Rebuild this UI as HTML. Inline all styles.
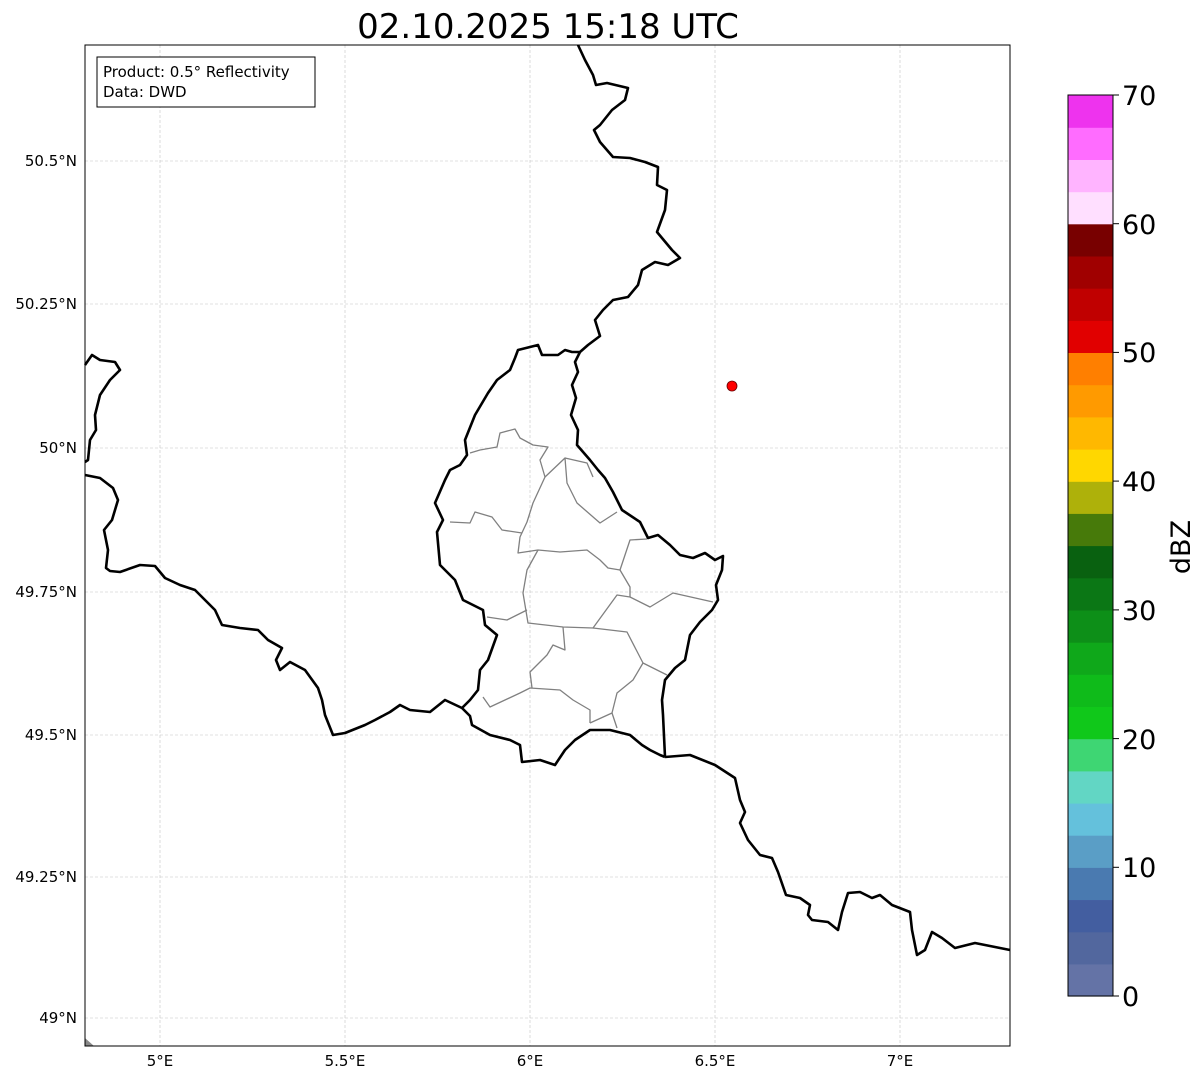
<!DOCTYPE html>
<html><head><meta charset="utf-8"><style>
html,body{margin:0;padding:0;background:#fff;}
svg{display:block;font-family:"DejaVu Sans","Liberation Sans",sans-serif;}
</style></head><body>
<svg width="1202" height="1081" viewBox="0 0 1202 1081" xmlns="http://www.w3.org/2000/svg">
<rect width="1202" height="1081" fill="#fff"/>
<text x="548" y="38" font-size="34" text-anchor="middle">02.10.2025 15:18 UTC</text>
<g stroke="#c4c4c4" stroke-width="0.6" stroke-dasharray="3,2">
<line x1="160" y1="45" x2="160" y2="1046"/><line x1="345" y1="45" x2="345" y2="1046"/>
<line x1="530" y1="45" x2="530" y2="1046"/><line x1="715" y1="45" x2="715" y2="1046"/>
<line x1="900" y1="45" x2="900" y2="1046"/>
<line x1="85" y1="161" x2="1010" y2="161"/><line x1="85" y1="304" x2="1010" y2="304"/>
<line x1="85" y1="448" x2="1010" y2="448"/><line x1="85" y1="592" x2="1010" y2="592"/>
<line x1="85" y1="735" x2="1010" y2="735"/><line x1="85" y1="877" x2="1010" y2="877"/>
<line x1="85" y1="1018" x2="1010" y2="1018"/>
</g>
<g fill="none" stroke="#808080" stroke-width="1.3" stroke-linejoin="round">
<polyline points="470,453 480,450 497,447 500,433 515,429 520,438 533,445 548,447 540,460 545,477 533,503 527,522 520,537 518,553 538,550 560,552 587,550 600,560 608,568 620,570 630,540 647,539"/>
<polyline points="545,477 565,458 567,483 577,503 600,523 617,512"/>
<polyline points="565,458 587,463 593,477"/>
<polyline points="450,522 470,523 475,512 492,517 502,530 522,533"/>
<polyline points="538,550 527,570 523,593 528,623 563,627 593,628 617,595 630,597 650,607 673,593 713,602"/>
<polyline points="620,570 630,587 630,597"/>
<polyline points="487,617 507,620 527,610"/>
<polyline points="563,627 565,650 553,645 547,655 530,672 532,688"/>
<polyline points="593,628 627,632 643,663 667,675"/>
<polyline points="643,663 633,680 617,693 612,713 590,723"/>
<polyline points="483,697 490,707 520,693 530,688 560,690 573,700 590,710 590,723"/>
<polyline points="612,713 617,728"/>
</g>
<g fill="none" stroke="#000" stroke-width="2.6" stroke-linejoin="round">
<polyline points="578,45 585,60 593,75 596,85 607,83 628,88 625,100 612,110 600,125 594,130 600,142 613,157 630,158 645,162 658,167 657,185 667,190 665,210 657,232 672,250 680,258 668,265 655,262 642,270 638,285 628,297 613,300 603,310 595,320 600,336 588,345 580,352 575,362 578,372 572,385 576,398 571,415 578,430 577,445 590,460 598,470 605,478 613,492 622,510 640,522 648,538 658,535 670,545 680,555 693,558 705,553 715,560 723,556 722,570 716,585 718,600 712,610 700,622 690,635 685,660 675,668 665,680 662,700 663,715 665,757"/>
<polyline points="580,352 572,352 565,350 558,355 542,355 538,345 518,350 515,358 510,370 497,380 488,393 475,415 465,440 467,455 460,465 450,470 445,480 435,503 443,520 437,532 440,565 455,580 463,600 483,610 485,625 497,635 488,660 480,670 478,690 470,700 462,708 470,716 472,725 490,735 510,740 520,745 522,762 540,760 555,765 565,750 575,740 590,730 610,730 630,735 642,745 650,750 660,755 665,757"/>
<polyline points="85,475 100,478 113,488 118,500 112,520 104,530 108,550 106,568 110,571 120,572 140,565 155,566 165,578 180,585 195,590 205,600 215,610 222,625 240,628 258,630 268,640 282,648 276,660 280,670 290,662 305,670 318,688 322,700 325,715 333,735 345,733 365,725 375,720 390,712 400,705 410,710 430,712 445,700 462,708"/>
<polyline points="85,365 92,355 100,360 115,362 120,370 110,380 100,395 95,415 96,430 90,440 88,460 85,462"/>
<polyline points="665,757 690,755 715,765 735,778 740,800 745,812 740,823 748,840 760,855 772,858 778,872 786,895 800,898 810,905 808,915 812,920 828,922 838,930 842,912 848,893 860,892 872,898 880,895 892,905 910,912 912,930 917,955 925,950 932,932 942,938 955,948 975,943 995,947 1010,950"/>
</g>
<polygon points="85,1038 85,1046 94,1046" fill="#888"/>
<circle cx="732" cy="386" r="5" fill="#f00" stroke="#600" stroke-width="0.8"/>
<rect x="85" y="45" width="925" height="1001" fill="none" stroke="#000" stroke-width="1"/>
<rect x="97" y="57" width="218" height="50" fill="#fff" stroke="#000" stroke-width="1"/>
<text x="103" y="77" font-size="15">Product: 0.5° Reflectivity</text>
<text x="103" y="97" font-size="15">Data: DWD</text>
<g font-size="15" text-anchor="end">
<text x="77" y="166">50.5°N</text><text x="77" y="309">50.25°N</text>
<text x="77" y="453">50°N</text><text x="77" y="597">49.75°N</text>
<text x="77" y="740">49.5°N</text><text x="77" y="882">49.25°N</text>
<text x="77" y="1023">49°N</text>
</g>
<g font-size="15" text-anchor="middle">
<text x="160" y="1066">5°E</text><text x="345" y="1066">5.5°E</text>
<text x="530" y="1066">6°E</text><text x="715" y="1066">6.5°E</text>
<text x="900" y="1066">7°E</text>
</g>
<g>
<rect x="1068" y="963.8" width="45" height="32.8" fill="#6473a6"/>
<rect x="1068" y="931.6" width="45" height="32.8" fill="#52679e"/>
<rect x="1068" y="899.5" width="45" height="32.8" fill="#435ea0"/>
<rect x="1068" y="867.3" width="45" height="32.8" fill="#4a7ab0"/>
<rect x="1068" y="835.1" width="45" height="32.8" fill="#5a9ec6"/>
<rect x="1068" y="802.9" width="45" height="32.8" fill="#64c1dc"/>
<rect x="1068" y="770.8" width="45" height="32.8" fill="#62d6c4"/>
<rect x="1068" y="738.6" width="45" height="32.8" fill="#3ed673"/>
<rect x="1068" y="706.4" width="45" height="32.8" fill="#10c81a"/>
<rect x="1068" y="674.2" width="45" height="32.8" fill="#0fbb1a"/>
<rect x="1068" y="642.0" width="45" height="32.8" fill="#0fa81a"/>
<rect x="1068" y="609.9" width="45" height="32.8" fill="#0d8f18"/>
<rect x="1068" y="577.7" width="45" height="32.8" fill="#0b7715"/>
<rect x="1068" y="545.5" width="45" height="32.8" fill="#096110"/>
<rect x="1068" y="513.3" width="45" height="32.8" fill="#477a0a"/>
<rect x="1068" y="481.1" width="45" height="32.8" fill="#aeb10a"/>
<rect x="1068" y="449.0" width="45" height="32.8" fill="#ffd700"/>
<rect x="1068" y="416.8" width="45" height="32.8" fill="#ffb800"/>
<rect x="1068" y="384.6" width="45" height="32.8" fill="#ff9a00"/>
<rect x="1068" y="352.4" width="45" height="32.8" fill="#ff7f00"/>
<rect x="1068" y="320.2" width="45" height="32.8" fill="#e10000"/>
<rect x="1068" y="288.1" width="45" height="32.8" fill="#c00000"/>
<rect x="1068" y="255.9" width="45" height="32.8" fill="#a00000"/>
<rect x="1068" y="223.7" width="45" height="32.8" fill="#780000"/>
<rect x="1068" y="191.5" width="45" height="32.8" fill="#ffdfff"/>
<rect x="1068" y="159.4" width="45" height="32.8" fill="#ffb4ff"/>
<rect x="1068" y="127.2" width="45" height="32.8" fill="#ff6cff"/>
<rect x="1068" y="95" width="45" height="32.8" fill="#ee33ee"/>
<rect x="1068" y="95" width="45" height="901" fill="none" stroke="#000" stroke-width="1"/>
<g stroke="#000" stroke-width="1">
<line x1="1113" y1="996" x2="1119" y2="996"/><line x1="1113" y1="867.3" x2="1119" y2="867.3"/>
<line x1="1113" y1="738.6" x2="1119" y2="738.6"/><line x1="1113" y1="609.9" x2="1119" y2="609.9"/>
<line x1="1113" y1="481.1" x2="1119" y2="481.1"/><line x1="1113" y1="352.4" x2="1119" y2="352.4"/>
<line x1="1113" y1="223.7" x2="1119" y2="223.7"/><line x1="1113" y1="95" x2="1119" y2="95"/>
</g>
<g font-size="27">
<text x="1122" y="1006">0</text><text x="1122" y="877">10</text>
<text x="1122" y="749">20</text><text x="1122" y="620">30</text>
<text x="1122" y="491">40</text><text x="1122" y="362">50</text>
<text x="1122" y="234">60</text><text x="1122" y="105">70</text>
</g>
<text transform="translate(1190,547) rotate(-90)" font-size="27" text-anchor="middle">dBZ</text>
</g>
</svg>
</body></html>
